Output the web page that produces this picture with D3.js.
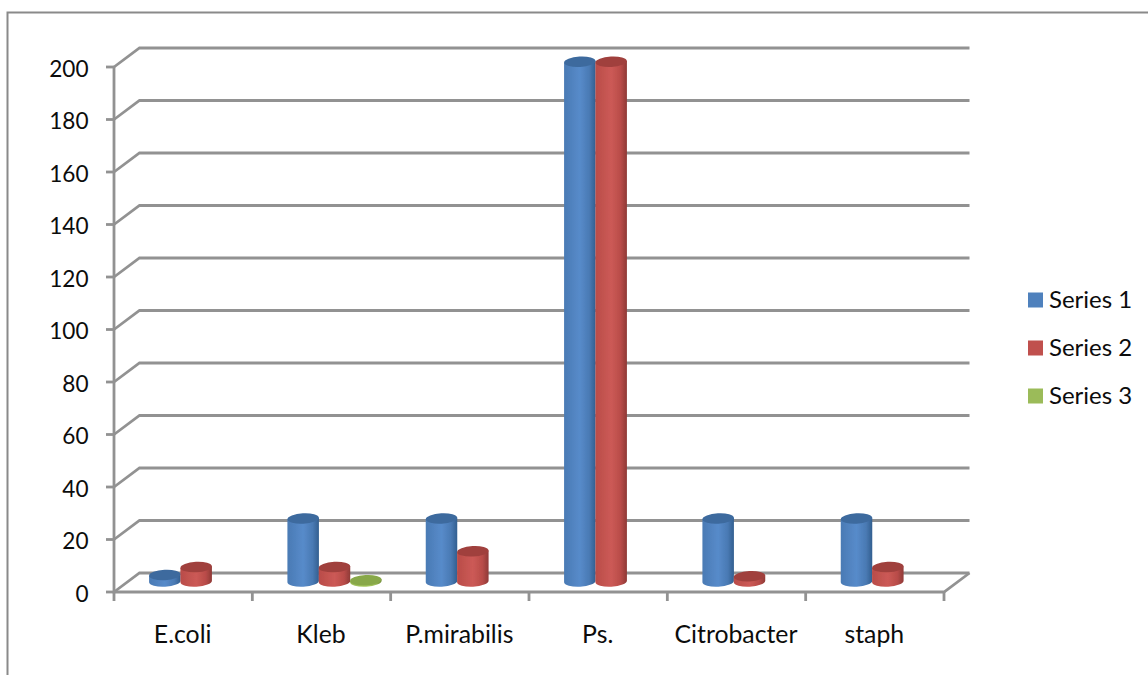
<!DOCTYPE html>
<html><head><meta charset="utf-8">
<style>html,body{margin:0;padding:0;background:#fff}svg{display:block}text{font-family:Lato,"Open Sans",sans-serif;fill:#0c0c0c}</style>
<script src="https://cdn.jsdelivr.net/npm/d3@7/dist/d3.min.js"></script>
</head><body><svg id="c" width="1148" height="675"></svg>
<script>
const categories=["E.coli","Kleb","P.mirabilis","Ps.","Citrobacter","staph"];
const seriesNames=["Series 1","Series 2","Series 3"];
const series1=[2.5,24,24,198,24,24];
const series2=[5.5,5.5,11.5,198,2,5.5];
const series3=[null,0.5,null,null,null,null];
const tickValues=d3.range(0,201,20);
const colors=[{base:"#4a7ab4",light:"#578bca",dark:"#325f90",top:"#3d6a9e",key:"#4f81bd"},
              {base:"#b94c49",light:"#cc5a56",dark:"#8f3a37",top:"#a0413e",key:"#c0504d"},
              {base:"#9bbb59",light:"#a9cb60",dark:"#6f8a38",top:"#88a848",key:"#9bbb59"}];

const svg=d3.select("#c");
const W=1148,H=675,depthX=25.5,depthY=19,grid="#929292";
const y=d3.scaleLinear().domain([0,200]).range([592,67]);
const x=d3.scaleBand().domain(categories).range([114,944]);
const xBar=d3.scaleBand().domain(categories).range([127,957]);
const barW=31.5,ry=5.2,floorY=581.5,tilt=-3;
const xIn=d3.scaleBand().domain(seriesNames).range([-47,47]);

const defs=svg.append("defs");
colors.forEach((c,i)=>{
  const g=defs.append("linearGradient").attr("id","g"+i);
  [[0,c.base],[.5,c.light],[.8,c.base],[1,c.dark]].forEach(s=>g.append("stop").attr("offset",s[0]).attr("stop-color",s[1]));
});
defs.append("filter").attr("id","soft").attr("x","-5%").attr("y","-5%").attr("width","110%").attr("height","110%")
  .append("feGaussianBlur").attr("stdDeviation",0.6);

// outer frame
svg.append("path").attr("d",`M7.5,675V12.5H${W}`).attr("fill","none").attr("stroke","#8a8a8a").attr("stroke-width",2);

const plot=svg.append("g").attr("filter","url(#soft)");
// back wall lines and side wall diagonals
tickValues.forEach(v=>{
  plot.append("path").attr("fill","none").attr("stroke",grid).attr("stroke-width",2.8)
    .attr("d",d3.line()([[x.range()[0],y(v)],[x.range()[0]+depthX,y(v)-depthY],[x.range()[1]+depthX,y(v)-depthY]]));
  plot.append("line").attr("x1",x.range()[0]-8).attr("x2",x.range()[0]).attr("y1",y(v)).attr("y2",y(v)).attr("stroke",grid).attr("stroke-width",2.8);
});
// floor edge and axes
plot.append("path").attr("fill","none").attr("stroke",grid).attr("stroke-width",2.8)
  .attr("d",d3.line()([[x.range()[1]+depthX,y(0)-depthY],[x.range()[1],y(0)],[x.range()[0],y(0)],[x.range()[0],y(200)]]));
categories.forEach(c=>plot.append("line").attr("x1",x(c)).attr("x2",x(c)).attr("y1",y(0)).attr("y2",y(0)+9).attr("stroke",grid).attr("stroke-width",2.8));
plot.append("line").attr("x1",x.range()[1]).attr("x2",x.range()[1]).attr("y1",y(0)).attr("y2",y(0)+9).attr("stroke",grid).attr("stroke-width",2.8);

// cylinders
[series1,series2,series3].forEach((vals,s)=>{
  vals.forEach((v,i)=>{
    if(v===null)return;
    const cx=xBar(categories[i])+xBar.bandwidth()/2+xIn(seriesNames[s])+xIn.bandwidth()/2;
    const h=y(0)-y(v), topY=floorY-h, rx=barW/2;
    const dy=rx*Math.sin(tilt*Math.PI/180)*-1;
    const g=plot.append("g");
    g.append("path").attr("fill",`url(#g${s})`)
      .attr("d",`M${cx-rx},${topY+dy}L${cx-rx},${floorY+dy}A${rx},${ry} ${tilt} 0 0 ${cx+rx},${floorY-dy}L${cx+rx},${topY-dy}Z`);
    g.append("ellipse").attr("cx",cx).attr("cy",topY).attr("rx",rx).attr("ry",ry).attr("fill",colors[s].top)
      .attr("transform",`rotate(${tilt} ${cx} ${topY})`);
  });
});

// labels
svg.append("g").selectAll("text").data(tickValues).join("text")
  .attr("x",88.5).attr("y",d=>y(d)+1.5).attr("dy","0.36em").attr("text-anchor","end").attr("font-size",22.6).text(d=>d);
svg.append("g").selectAll("text").data(categories).join("text")
  .attr("x",d=>x(d)+x.bandwidth()/2-0.5).attr("y",634).attr("dy","0.36em").attr("text-anchor","middle").attr("font-size",24.8).text(d=>d);

// legend
const ly=d3.scalePoint().domain(seriesNames).range([300,396]);
const lg=svg.append("g").selectAll("g").data(seriesNames).join("g");
lg.append("rect").attr("x",1028).attr("y",d=>ly(d)-7.5).attr("width",15).attr("height",15).attr("fill",(d,i)=>colors[i].key);
lg.append("text").attr("x",1049).attr("y",d=>ly(d)-0.5).attr("dy","0.36em").attr("font-size",24).text(d=>d);
</script></body></html>
